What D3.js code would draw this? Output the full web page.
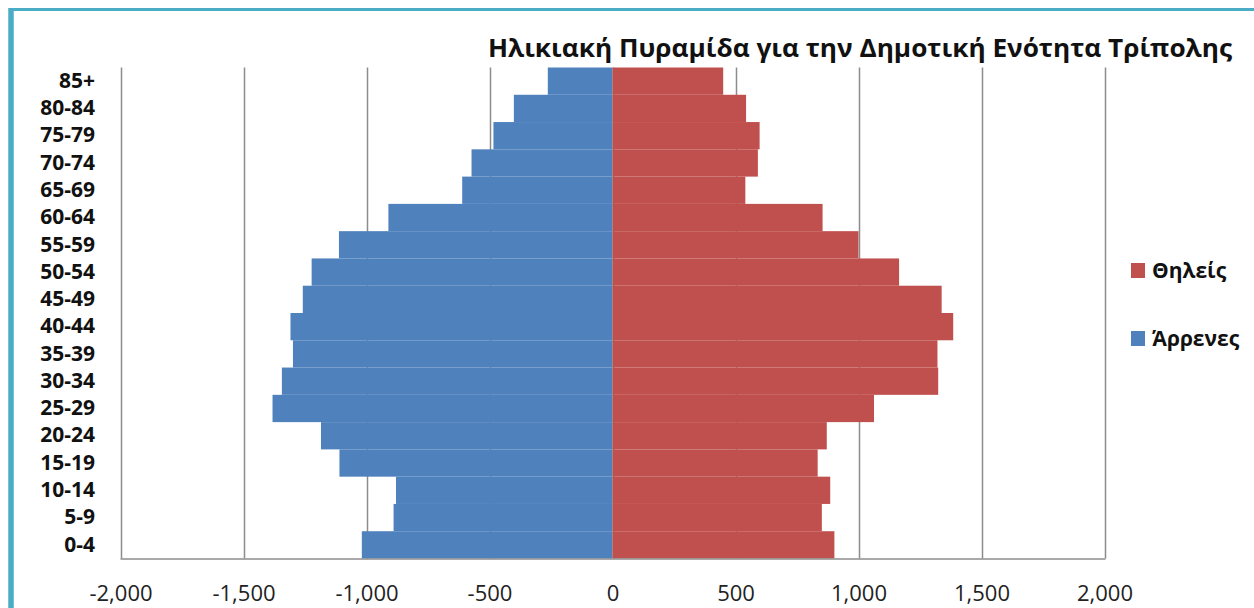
<!DOCTYPE html>
<html>
<head>
<meta charset="utf-8">
<script src="https://cdn.jsdelivr.net/npm/d3@7"></script>
<style>
  body { margin: 0; background: #fff; }
  svg { display: block; }
</style>
</head>
<body>
<script>
// Age groups, oldest at the top
var ageGroups = ["85+", "80-84", "75-79", "70-74", "65-69", "60-64", "55-59", "50-54", "45-49",
                 "40-44", "35-39", "30-34", "25-29", "20-24", "15-19", "10-14", "5-9", "0-4"];
// Males are drawn to the left (negative)
var males = [-263, -401, -484, -573, -611, -911, -1112, -1223, -1259,
             -1309, -1299, -1344, -1382, -1185, -1110, -880, -890, -1019];
var females = [450, 543, 598, 591, 540, 854, 1000, 1165, 1338,
               1385, 1321, 1324, 1063, 871, 834, 885, 851, 902];
var xTicks = [-2000, -1500, -1000, -500, 0, 500, 1000, 1500, 2000];
var legendItems = [{name: "Θηλείς", color: "#C0504D"}, {name: "Άρρενες", color: "#4F81BD"}];
var title = "Ηλικιακή Πυραμίδα για την Δημοτική Ενότητα Τρίπολης";

var width = 1254, height = 608;
var plotLeft = 120.5, plotRight = 1104.5, plotTop = 67.5, plotBottom = 558.5;

var svg = d3.select("body").append("svg")
            .attr("width", width)
            .attr("height", height);

// Outer frame (only top and left edges visible in the crop)
svg.append("line")
   .attr("x1", 11).attr("x2", width).attr("y1", 9.5).attr("y2", 9.5)
   .attr("stroke", "#4BACC6").attr("stroke-width", 3);
svg.append("line")
   .attr("x1", 11).attr("x2", 11).attr("y1", 8).attr("y2", height)
   .attr("stroke", "#4BACC6").attr("stroke-width", 5.5);

var x = d3.scaleLinear().domain([-2000, 2000]).range([plotLeft, plotRight]);
var y = d3.scaleBand().domain(ageGroups).range([plotTop, plotBottom]).padding(0);

// Vertical gridlines
svg.append("g").selectAll("line")
   .data(xTicks)
   .join("line")
   .attr("x1", function(d) { return Math.round(x(d)) + 0.5; })
   .attr("x2", function(d) { return Math.round(x(d)) + 0.5; })
   .attr("y1", plotTop)
   .attr("y2", plotBottom)
   .attr("stroke", "#8C8C8C")
   .attr("stroke-width", 1.5);

// Bars
svg.append("g").selectAll("rect")
   .data(males)
   .join("rect")
   .attr("x", function(d) { return x(d); })
   .attr("y", function(d, i) { return y(ageGroups[i]); })
   .attr("width", function(d) { return x(0) - x(d); })
   .attr("height", y.bandwidth())
   .attr("fill", "#4F81BD");

svg.append("g").selectAll("rect")
   .data(females)
   .join("rect")
   .attr("x", x(0))
   .attr("y", function(d, i) { return y(ageGroups[i]); })
   .attr("width", function(d) { return x(d) - x(0); })
   .attr("height", y.bandwidth())
   .attr("fill", "#C0504D");

// Bottom axis line
svg.append("line")
   .attr("x1", plotLeft).attr("x2", plotRight + 1)
   .attr("y1", plotBottom + 0.5).attr("y2", plotBottom + 0.5)
   .attr("stroke", "#8C8C8C").attr("stroke-width", 1.5);

// X tick labels (plain hyphen for negatives, like the original)
var fmt = d3.formatLocale({decimal: ".", thousands: ",", grouping: [3], currency: ["", ""], minus: "-"}).format(",");
var xAxis = d3.axisBottom(x).tickValues(xTicks).tickFormat(fmt).tickSize(0).tickPadding(0);
var xg = svg.append("g")
            .attr("transform", "translate(0,601)")
            .call(xAxis);
xg.select(".domain").remove();
xg.selectAll("text")
  .attr("font-family", "'Open Sans', sans-serif")
  .attr("font-size", 22)
  .attr("fill", "#222")
  .attr("dy", 0);

// Category labels
var yAxis = d3.axisLeft(y).tickSize(0).tickPadding(0);
var yg = svg.append("g")
            .attr("transform", "translate(95,0)")
            .call(yAxis);
yg.select(".domain").remove();
yg.selectAll("text")
  .attr("font-family", "'Open Sans', sans-serif")
  .attr("font-weight", "bold")
  .attr("font-size", 21)
  .attr("fill", "#111");

// Title
svg.append("text")
   .attr("x", 488)
   .attr("y", 57)
   .attr("textLength", 744)
   .attr("lengthAdjust", "spacingAndGlyphs")
   .attr("font-family", "'Open Sans', sans-serif")
   .attr("font-weight", "bold")
   .attr("font-size", 25)
   .attr("fill", "#111")
   .text(title);

// Legend
var legend = svg.append("g").selectAll("g")
                .data(legendItems)
                .join("g")
                .attr("transform", function(d, i) { return "translate(1131," + (263 + i * 68) + ")"; });
legend.append("rect")
      .attr("width", 14).attr("height", 15)
      .attr("fill", function(d) { return d.color; });
legend.append("text")
      .attr("x", 21).attr("y", 8).attr("dy", "0.35em")
      .attr("font-family", "'Open Sans', sans-serif")
      .attr("font-weight", "bold")
      .attr("font-size", 21)
      .attr("fill", "#111")
      .text(function(d) { return d.name; });
</script>
</body>
</html>
